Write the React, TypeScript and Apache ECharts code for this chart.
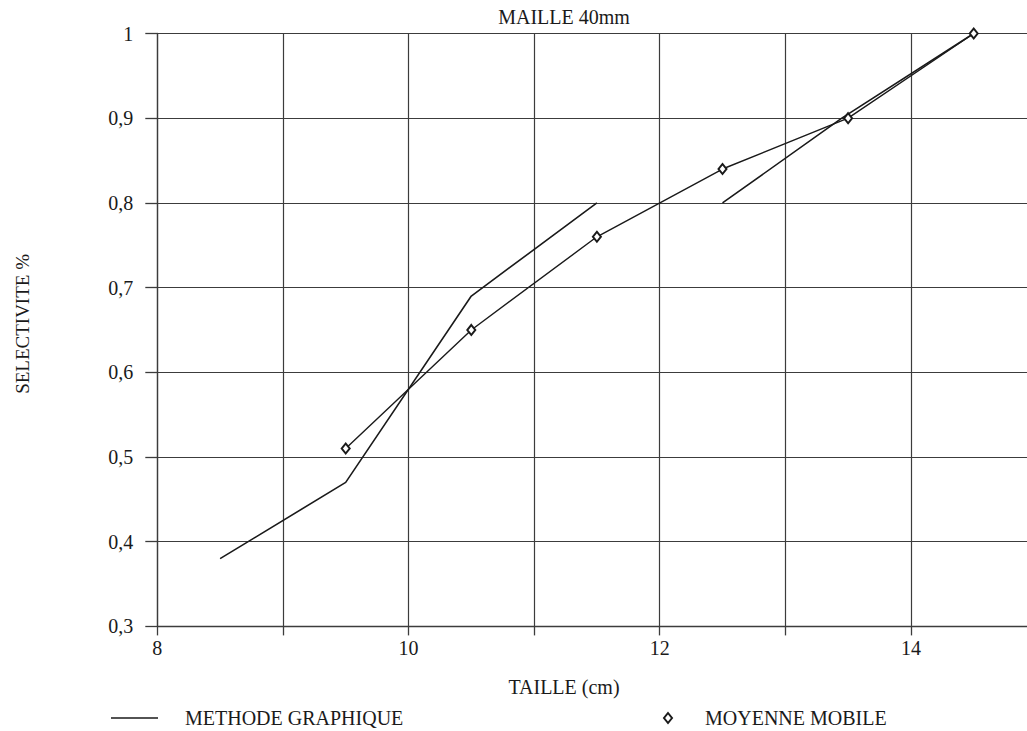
import React, { useEffect, useRef } from "react";
import * as echarts from "echarts";

const chartTitle = "MAILLE 40mm";
const xAxisTitle = "TAILLE (cm)";
const yAxisTitle = "SELECTIVITE %";
const methodeName = "METHODE GRAPHIQUE";
const moyenneName = "MOYENNE MOBILE";

// Moyenne mobile (diamonds)
const moyenneTaille = [9.5, 10.5, 11.5, 12.5, 13.5, 14.5];
const moyenneSelectivite = [0.51, 0.65, 0.76, 0.84, 0.9, 1.0];

// Methode graphique: two drawn segments
const methodeTaille1 = [8.5, 9.5, 10.5, 11.5];
const methodeSelectivite1 = [0.38, 0.47, 0.69, 0.8];
const methodeTaille2 = [12.5, 13.45, 14.5];
const methodeSelectivite2 = [0.8, 0.9, 1.0];

// Axes
const xMin = 8;
const xMax = 15;
const xStep = 1;
const xLabelledTicks = [8, 10, 12, 14];
const yMin = 0.3;
const yMax = 1;
const yStep = 0.1;

const FONT = "Liberation Serif";
const INK = "#1a1a1a";
const GRID = "#3c3c3c";

const pairs = (xs: number[], ys: number[]) => xs.map((x, i) => [x, ys[i]]);

export default function App() {
  const ref = useRef<HTMLDivElement>(null);

  useEffect(() => {
    if (!ref.current) return;
    const chart = echarts.init(ref.current, undefined, { renderer: "svg" });
    const textBase = { fontFamily: FONT, fontSize: 20, color: INK };

    chart.setOption({
      animation: false,
      backgroundColor: "#ffffff",
      textStyle: { fontFamily: FONT },
      title: [
        {
          text: chartTitle,
          left: 564,
          top: 6.5,
          padding: 0,
          textAlign: "center",
          textStyle: { ...textBase, fontWeight: "normal" },
        },
        {
          text: xAxisTitle,
          left: 564,
          top: 676.5,
          padding: 0,
          textAlign: "center",
          textStyle: { ...textBase, fontWeight: "normal" },
        },
      ],
      legend: [
        {
          data: [{ name: methodeName, icon: "path://M0,0H47V1.6H0Z" }],
          left: 106,
          top: 703,
          itemWidth: 47,
          itemHeight: 20,
          selectedMode: false,
          textStyle: { ...textBase, padding: [0, 0, 0, 22] },
        },
        {
          data: [{ name: moyenneName, icon: "emptyDiamond" }],
          left: 658,
          top: 703,
          itemWidth: 8,
          itemHeight: 10,
          selectedMode: false,
          textStyle: { ...textBase, padding: [0, 0, 0, 28] },
        },
      ],
      grid: {
        left: 157.3,
        top: 33.5,
        right: -9.5,
        bottom: 104.6,
        containLabel: false,
        outerBoundsMode: "none",
      },
      xAxis: {
        type: "value",
        min: xMin,
        max: xMax,
        interval: xStep,
        axisLine: { show: true, lineStyle: { color: GRID, width: 1.3 } },
        axisTick: { show: true, length: 9, lineStyle: { color: GRID, width: 1.3 } },
        splitLine: { show: true, lineStyle: { color: GRID, width: 1.2 } },
        axisLabel: {
          ...textBase,
          margin: 12,
          formatter: (v: number) => (xLabelledTicks.includes(v) ? String(v) : ""),
        },
      },
      yAxis: {
        type: "value",
        min: yMin,
        max: yMax,
        interval: yStep,
        name: yAxisTitle,
        nameLocation: "middle",
        nameRotate: 90,
        nameGap: 125,
        nameTextStyle: { ...textBase, fontSize: 19, padding: [0, 0, 0, 12] },
        axisLine: { show: true, lineStyle: { color: GRID, width: 1.3 } },
        axisTick: { show: true, length: 12, lineStyle: { color: GRID, width: 1.3 } },
        splitLine: { show: true, lineStyle: { color: GRID, width: 1.2 } },
        axisLabel: {
          ...textBase,
          margin: 24,
          formatter: (v: number) => String(Math.round(v * 10) / 10).replace(".", ","),
        },
      },
      series: [
        {
          name: methodeName,
          type: "line",
          data: pairs(methodeTaille1, methodeSelectivite1),
          symbol: "none",
          color: INK,
          itemStyle: { color: INK },
          lineStyle: { color: INK, width: 1.6 },
          z: 3,
        },
        {
          name: methodeName,
          type: "line",
          data: pairs(methodeTaille2, methodeSelectivite2),
          symbol: "none",
          color: INK,
          itemStyle: { color: INK },
          lineStyle: { color: INK, width: 1.6 },
          z: 3,
        },
        {
          name: moyenneName,
          type: "line",
          data: pairs(moyenneTaille, moyenneSelectivite),
          symbol: "emptyDiamond",
          symbolSize: [8, 10],
          color: INK,
          itemStyle: { color: INK, borderColor: INK, borderWidth: 1.4 },
          lineStyle: { color: INK, width: 1.4 },
          z: 4,
        },
      ],
    });

    return () => chart.dispose();
  }, []);

  return (
    <div
      ref={ref}
      style={{ position: "fixed", left: 0, top: 0, width: 1027, height: 731, background: "#fff" }}
    />
  );
}
